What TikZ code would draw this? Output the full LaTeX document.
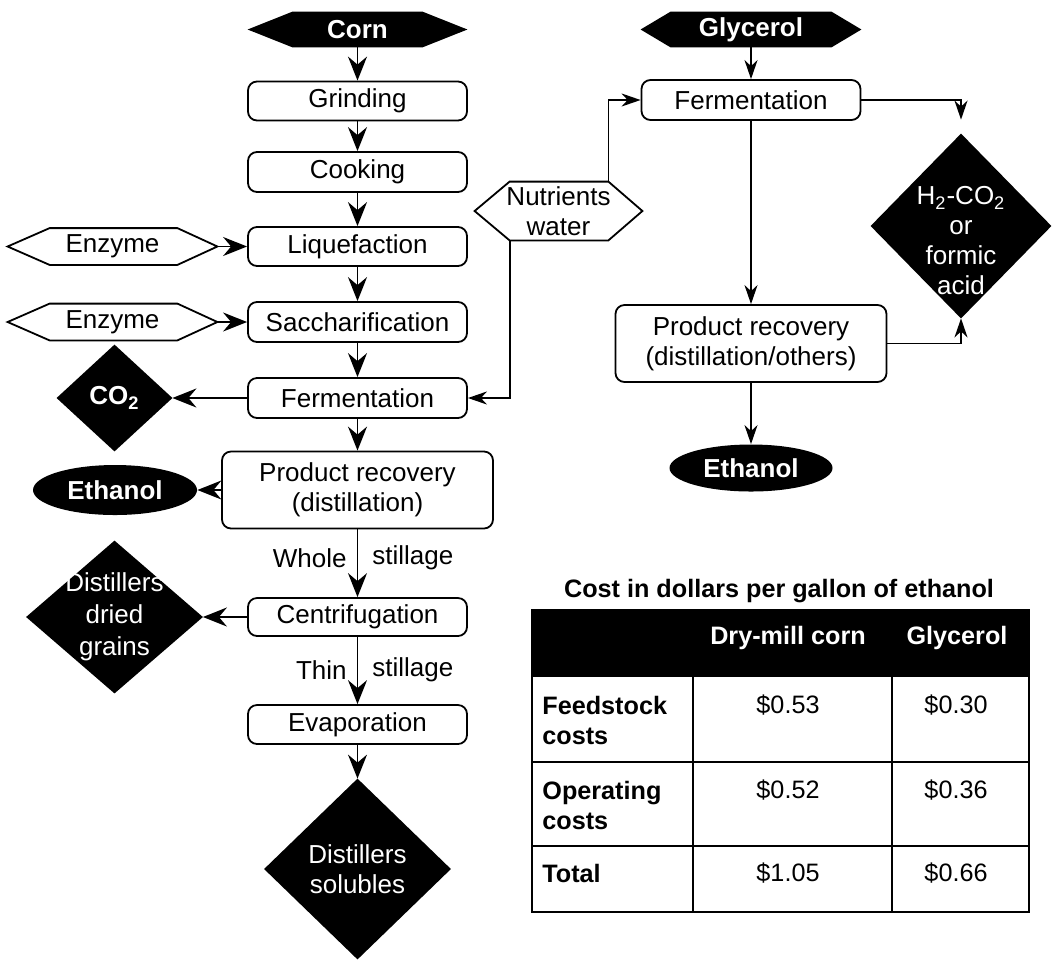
\documentclass[tikz,border=0pt]{standalone}
\usepackage{fontspec}
\setmainfont{Liberation Sans}
\usetikzlibrary{arrows.meta,shapes.geometric,calc,backgrounds}
\newcommand\pu{0.5pt}
\begin{document}
\begin{tikzpicture}[x=0.5pt,y=-0.5pt,
 lw/.style={line width=0.9pt},
 ft/.style={font=\fontsize{13}{15}\selectfont},
 box/.style={ft, draw, lw, rounded corners=4.5pt, minimum width=219*\pu, minimum height=39*\pu, inner sep=0pt, align=center},
 shapebb/.style={ft, inner sep=0pt, align=center},
 wt/.style={text=white},
 blackell/.style={ellipse, fill=black, text=white, ft, inner sep=0pt},
 big/.style={lw, -{Stealth[length=12pt,width=9.5pt,inset=4pt]}},
 small/.style={lw, -{Stealth[length=9.5pt,width=6.5pt,inset=3pt]}},
 lab/.style={ft, inner sep=0pt},
 tt/.style={font=\fontsize{12.6}{15}\selectfont, inner sep=0pt},
 ttb/.style={font=\fontsize{12.6}{15}\selectfont\bfseries, inner sep=0pt},
 tline/.style={line width=0.8pt}
]
\useasboundingbox (0,0) rectangle (1052,960);

% ---- left column
\node[shapebb, wt, minimum width=219*\pu, minimum height=35*\pu] (corn) at (357.5,29.5) {\textbf{Corn}};
\node[box] (grind) at (357.5,101) {Grinding};
\node[box, minimum height=40*\pu] (cook) at (357.5,172) {Cooking};
\node[box] (liq) at (357.5,246.5) {Liquefaction};
\node[box, minimum height=40*\pu] (sacc) at (357.5,322) {Saccharification};
\node[box, minimum height=40*\pu] (ferm) at (357.5,398) {Fermentation};
\node[box, minimum width=271*\pu, minimum height=77*\pu] (pr) at (357.5,490) {Product recovery\\(distillation)};
\node[box, minimum height=38*\pu] (cent) at (357.5,617) {Centrifugation};
\node[box] (evap) at (357.5,724.5) {Evaporation};
\node[shapebb, wt, minimum width=186*\pu, minimum height=180*\pu] (ds) at (357.5,869) {Distillers\\solubles};

\node[shapebb, minimum width=209*\pu, minimum height=36*\pu] (enz1) at (112.5,246.5) {Enzyme};
\node[shapebb, minimum width=209*\pu, minimum height=36*\pu] (enz2) at (112.5,322) {Enzyme};
\node[shapebb, wt, minimum width=115*\pu, minimum height=106*\pu] (co2) at (114.5,398) {\textbf{CO\textsubscript{2}}};
\node[blackell, minimum width=164*\pu, minimum height=50*\pu] (ethl) at (115,490) {\textbf{Ethanol}};
\node[shapebb, wt, font=\fontsize{13}{16}\selectfont, minimum width=176*\pu, minimum height=152*\pu] (ddg) at (114.5,617) {Distillers\\dried\\grains};

% ---- right column
\node[shapebb, wt, minimum width=220*\pu, minimum height=35*\pu] (gly) at (751,29.5) {\textbf{Glycerol}};
\node[box, minimum height=40*\pu] (rferm) at (751,100) {Fermentation};
\node[box, minimum width=271*\pu, minimum height=77*\pu] (rpr) at (751,343.5) {Product recovery\\(distillation/others)};
\node[blackell, minimum width=163*\pu, minimum height=47*\pu] (reth) at (751,468) {\textbf{Ethanol}};
\node[shapebb, minimum width=167*\pu, minimum height=58*\pu] (nut) at (558.5,211) {Nutrients\\water};
\node[shapebb, minimum width=180*\pu, minimum height=184*\pu] (h2) at (961,226) {};
\node[shapebb, wt] (h2t) at (961,241) {H\textsubscript{2}-CO\textsubscript{2}\\or\\formic\\acid};

% ---- shapes behind text
\begin{pgfonlayer}{background}
\fill (corn.west) -- ($(corn.north west)+(45,0)$) -- ($(corn.north east)+(-45,0)$) -- (corn.east) -- ($(corn.south east)+(-45,0)$) -- ($(corn.south west)+(45,0)$) -- cycle;
\fill (gly.west) -- ($(gly.north west)+(30,0)$) -- ($(gly.north east)+(-30,0)$) -- (gly.east) -- ($(gly.south east)+(-30,0)$) -- ($(gly.south west)+(30,0)$) -- cycle;
\draw[lw, fill=white] (enz1.west) -- ($(enz1.north west)+(42,0)$) -- ($(enz1.north east)+(-40,0)$) -- (enz1.east) -- ($(enz1.south east)+(-40,0)$) -- ($(enz1.south west)+(42,0)$) -- cycle;
\draw[lw, fill=white] (enz2.west) -- ($(enz2.north west)+(42,0)$) -- ($(enz2.north east)+(-40,0)$) -- (enz2.east) -- ($(enz2.south east)+(-40,0)$) -- ($(enz2.south west)+(42,0)$) -- cycle;
\draw[lw, fill=white] (nut.west) -- ($(nut.north west)+(35,0)$) -- ($(nut.north east)+(-34,0)$) -- (nut.east) -- ($(nut.south east)+(-34,0)$) -- ($(nut.south west)+(35,0)$) -- cycle;
\fill (co2.north) -- (co2.east) -- (co2.south) -- (co2.west) -- cycle;
\fill (ddg.north) -- (ddg.east) -- (ddg.south) -- (ddg.west) -- cycle;
\fill (ds.north) -- (ds.east) -- (ds.south) -- (ds.west) -- cycle;
\fill (h2.north) -- (h2.east) -- (h2.south) -- (h2.west) -- cycle;
\end{pgfonlayer}

% ---- connectors left
\draw[big] (corn.south) -- (grind.north);
\draw[big] (grind.south) -- (cook.north);
\draw[big] (cook.south) -- (liq.north);
\draw[big] (liq.south) -- (sacc.north);
\draw[big] (sacc.south) -- (ferm.north);
\draw[big] (ferm.south) -- (pr.north);
\draw[big] (pr.south) -- node[lab, pos=0.42, anchor=east, xshift=-5pt] (lwhole) {Whole} node[lab, pos=0.42, anchor=west, xshift=7pt] (lst1) {stillage} (cent.north);
\draw[big] (cent.south) -- node[lab, pos=0.49, anchor=east, xshift=-5pt] (lthin) {Thin} node[lab, pos=0.49, anchor=west, xshift=7pt] (lst2) {stillage} (evap.north);
\draw[big] (evap.south) -- (ds.north);
\draw[big] (enz1.east) -- (liq.west);
\draw[big] (enz2.east) -- (sacc.west);
\draw[big] (ferm.west) -- (co2.east);
\draw[big] (pr.west) -- (ethl.east);
\draw[big] (cent.west) -- (ddg.east);

% ---- connectors right
\coordinate (nutbl) at ($(nut.south west)+(35,0)$);
\coordinate (nuttr) at ($(nut.north east)+(-34,0)$);
\draw[small] (nutbl) |- (ferm.east);
\draw[small] (nuttr) |- (rferm.west);
\draw[small] (gly.south) -- (rferm.north);
\draw[small] (rferm.east) -| ([yshift=7pt]h2.north);
\draw[small] (rferm.south) -- (rpr.north);
\draw[small] (rpr.south) -- (reth.north);
\draw[small] (rpr.east) -| (h2.south);

% ---- table
\node[ttb] (ttl) at (779,591) {Cost in dollars per gallon of ethanol};
\fill (532,610) rectangle (1029,677);
\draw[tline] (532,610) rectangle (1029,912);
\draw[tline] (532,762) -- (1029,762);
\draw[tline] (532,846) -- (1029,846);
\draw[tline] (693,677) -- (693,912);
\draw[tline] (892,677) -- (892,912);
\node[ttb, text=white] (hc1) at (788,638) {Dry-mill corn};
\node[ttb, text=white] (hc2) at (957,638) {Glycerol};
\node[ttb, anchor=west, align=left] (r1) at (542,720) {Feedstock\\costs};
\node[ttb, anchor=west, align=left] (r2) at (542,805) {Operating\\costs};
\node[ttb, anchor=west] (r3) at (542,873) {Total};
\node[tt] (v11) at (788,705) {\$0.53};
\node[tt] (v12) at (956,705) {\$0.30};
\node[tt] (v21) at (788,790) {\$0.52};
\node[tt] (v22) at (956,790) {\$0.36};
\node[tt] (v31) at (788,873) {\$1.05};
\node[tt] (v32) at (956,873) {\$0.66};
\end{tikzpicture}
\end{document}
